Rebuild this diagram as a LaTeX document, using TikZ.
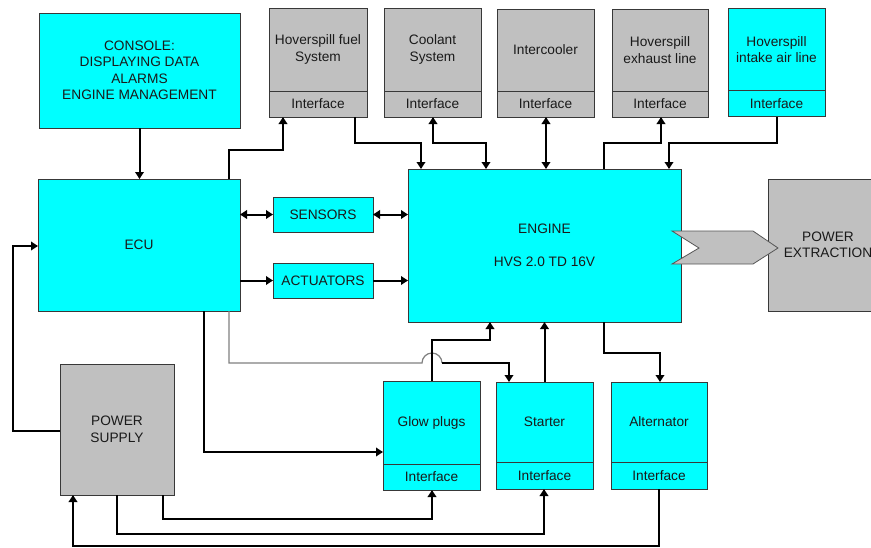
\documentclass[tikz,border=0pt]{standalone}
\usepackage{fontspec}
\setmainfont{Liberation Sans}
\usetikzlibrary{arrows.meta,calc}
\definecolor{cy}{HTML}{00FFFF}
\definecolor{gy}{HTML}{C0C0C0}
\definecolor{bl}{HTML}{383838}
\definecolor{tx}{HTML}{1A1A1A}
\definecolor{gl}{HTML}{808080}
\newcommand{\dfont}{\fontsize{13.7}{16.5}\selectfont}
\begin{document}
\begin{tikzpicture}[x=1pt,y=-1pt,
  box/.style={draw=bl, line width=0.8pt, inner sep=0pt, outer sep=0pt, align=center, font=\dfont, text=tx},
  cbox/.style={box, fill=cy},
  gbox/.style={box, fill=gy},
  conn/.style={line width=2pt, black},
  arr/.style={conn, -{Triangle[length=7pt,width=8.5pt]}},
  darr/.style={conn, {Triangle[length=7pt,width=8.5pt]}-{Triangle[length=7pt,width=8.5pt]}},
  thinline/.style={line width=1.2pt, gl}]
\useasboundingbox (0,0) rectangle (871,547);
\clip (0,0) rectangle (871,547);

% left column
\node[cbox, minimum width=201, minimum height=115] (console) at (139.5,70.5) {CONSOLE:\\DISPLAYING DATA\\ALARMS\\ENGINE MANAGEMENT};
\node[cbox, minimum width=202, minimum height=132] (ecu) at (139,245) {ECU};
\node[gbox, minimum width=114, minimum height=131] (ps) at (117,429.5) {POWER\\SUPPLY};

% sensors / actuators
\node[cbox, minimum width=100, minimum height=35] (sens) at (323,214.5) {SENSORS};
\node[cbox, minimum width=100, minimum height=35] (act) at (323,280.5) {ACTUATORS};

% engine
\node[cbox, minimum width=273, minimum height=153] (engine) at (544.5,245.5) {ENGINE\\[16pt]HVS 2.0 TD 16V};

% power extraction
\node[gbox, minimum width=120, minimum height=132] (pe) at (828,245) {POWER\\EXTRACTION};
\draw[fill=gy, draw=bl!85, line width=0.8pt] (672,231) -- (753,231) -- (778,248) -- (753,264) -- (672,264) -- (699,248) -- cycle;

% top boxes
\node[gbox, minimum width=98, minimum height=83] (fuel) at (318,49.5) {Hoverspill fuel\\System};
\node[gbox, minimum width=98, minimum height=26] (fuelI) at (318,104) {Interface};
\node[gbox, minimum width=97, minimum height=83] (cool) at (432.5,49.5) {Coolant\\System};
\node[gbox, minimum width=97, minimum height=26] (coolI) at (432.5,104) {Interface};
\node[gbox, minimum width=97, minimum height=82] (inter) at (545.5,50) {Intercooler};
\node[gbox, minimum width=97, minimum height=26] (interI) at (545.5,104) {Interface};
\node[gbox, minimum width=96, minimum height=82] (exh) at (660,50) {Hoverspill\\exhaust line};
\node[gbox, minimum width=96, minimum height=26] (exhI) at (660,104) {Interface};
\node[cbox, minimum width=97, minimum height=82] (intk) at (776.5,49.5) {Hoverspill\\intake air line};
\node[cbox, minimum width=97, minimum height=26] (intkI) at (776.5,103.5) {Interface};

% bottom boxes
\node[cbox, minimum width=97, minimum height=83] (glow) at (431.5,422.5) {Glow plugs};
\node[cbox, minimum width=97, minimum height=26] (glowI) at (431.5,477) {Interface};
\node[cbox, minimum width=97, minimum height=80] (start) at (544.5,422) {Starter};
\node[cbox, minimum width=97, minimum height=27] (startI) at (544.5,475.5) {Interface};
\node[cbox, minimum width=96, minimum height=80] (alt) at (659,422) {Alternator};
\node[cbox, minimum width=96, minimum height=27] (altI) at (659,475.5) {Interface};

% connectors: left
\draw[arr] (console.south) -- (ecu.north -| console.south);
\draw[darr] (ecu.east |- sens.west) -- (sens.west);
\draw[darr] (sens.east) -- (engine.west |- sens.east);
\draw[arr] (ecu.east |- act.west) -- (act.west);
\draw[arr] (act.east) -- (engine.west |- act.east);
\draw[arr] (ps.west |- 0,431) -| (13,246) -- (ecu.west |- 0,246);

% connectors: top
\draw[arr] (ecu.north -| 229,0) |- (283,150) -- (fuelI.south -| 283,0);
\draw[arr] (fuelI.south -| 355,0) |- (421,143) -- (engine.north -| 421,0);
\draw[darr] (engine.north -| 486,0) |- (433,143) -- (coolI.south -| 433,0);
\draw[darr] (engine.north -| 546,0) -- (interI.south -| 546,0);
\draw[arr] (engine.north -| 604,0) |- (661,143) -- (exhI.south -| 661,0);
\draw[arr] (intkI.south -| 777,0) |- (669,143) -- (engine.north -| 669,0);

% connectors: bottom
\draw[arr] (ecu.south -| 204,0) |- (glow.west |- 0,452);
\coordinate (hopend) at (442,363);
\draw[thinline] (ecu.south -| 229,0) |- (422,363) arc[start angle=180, end angle=360, radius=10];
\draw[arr] (hopend) -| (start.north -| 509,0);
\draw[arr] (glow.north) |- (490,340) -- (engine.south -| 490,0);
\draw[arr] (start.north) -- (engine.south -| start.north);
\draw[arr] (engine.south -| 604,0) |- (660,353) -- (alt.north -| 660,0);
\draw[arr] (ps.south -| 163,0) |- (432,519) -- (glowI.south -| 432,0);
\draw[arr] (ps.south -| 117,0) |- (544,534) -- (startI.south -| 544,0);
\draw[arr] (altI.south) |- (73,545.5) -- (ps.south -| 73,0);
\end{tikzpicture}
\end{document}
